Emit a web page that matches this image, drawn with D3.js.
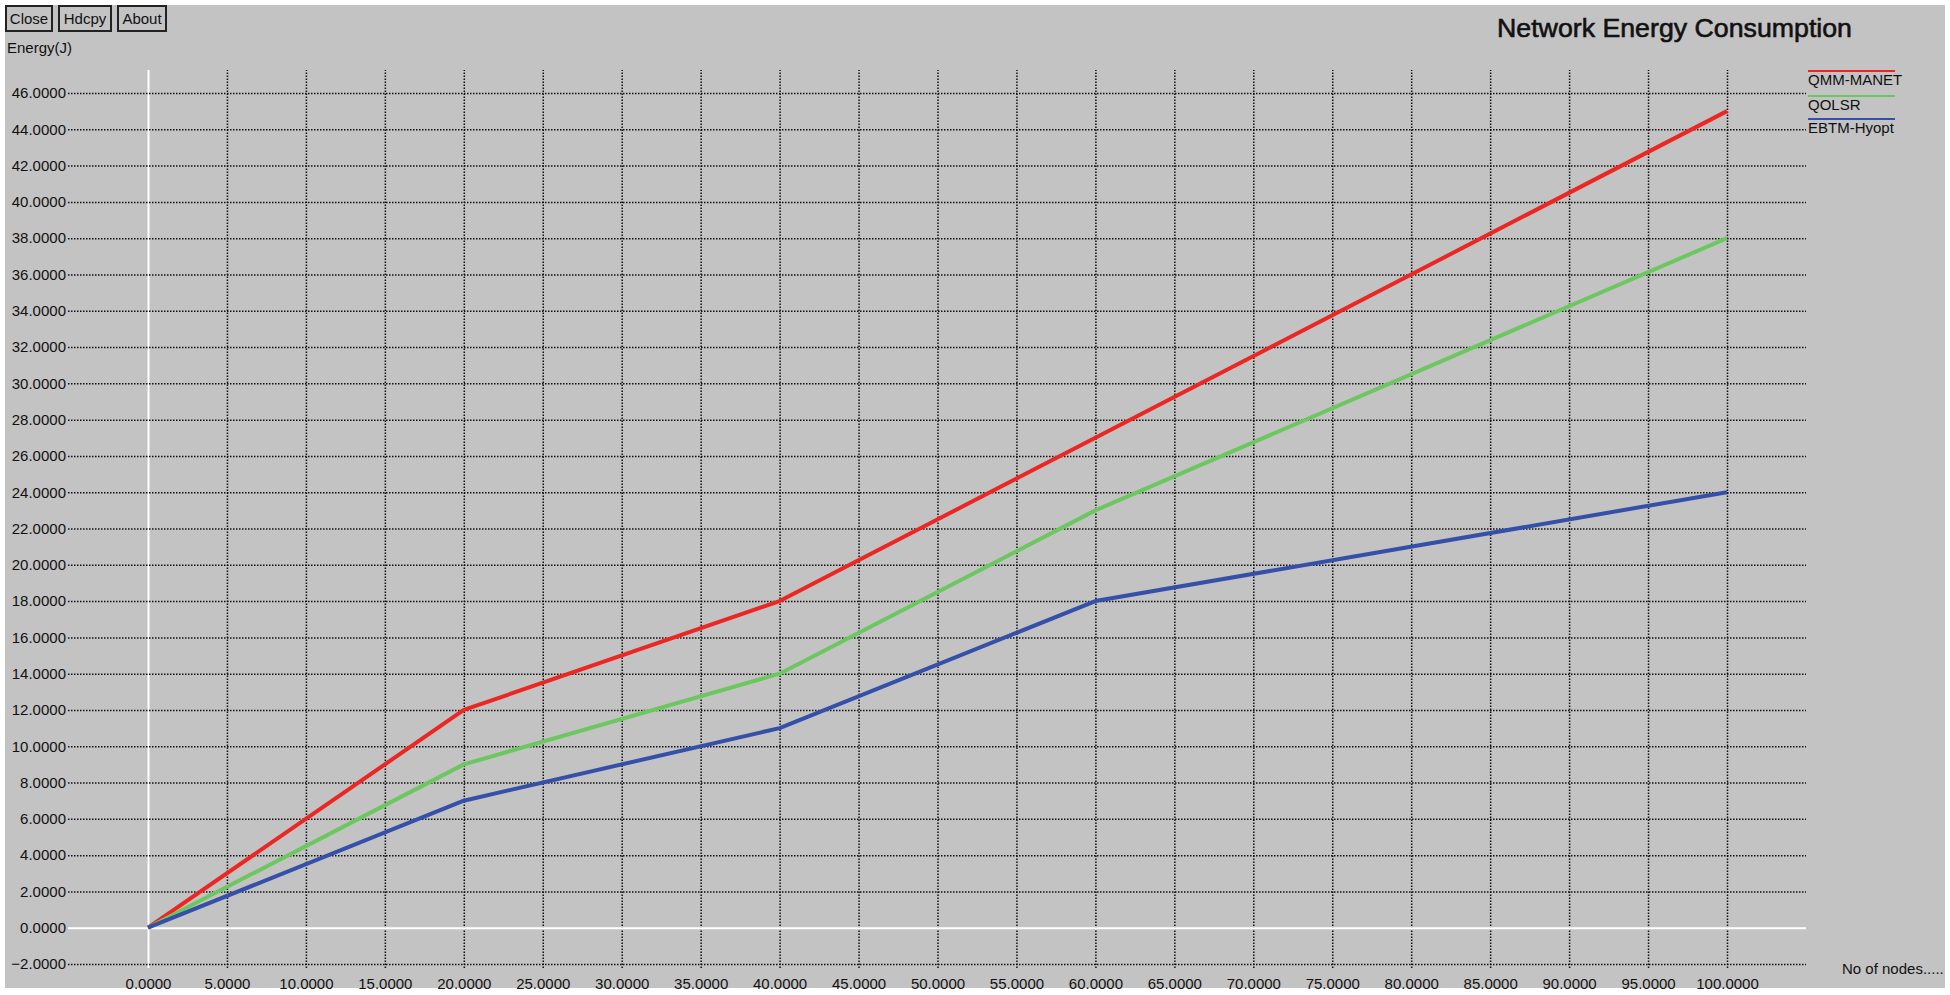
<!DOCTYPE html>
<html>
<head>
<meta charset="utf-8">
<title>Network Energy Consumption</title>
<script src="https://cdn.jsdelivr.net/npm/d3@7"></script>
<style>
  body { margin: 0; background: #fff; }
  svg { display: block; font-family: "Liberation Sans", Arial, sans-serif; }
  .grid line { stroke: #111; stroke-dasharray: 1.5,1.5; stroke-width: 1.5; }
  .grid .zero line { stroke: #fff; stroke-dasharray: none; stroke-width: 2; }
  .grid text { fill: #111; font-size: 15px; }
</style>
</head>
<body>
<div id="chart"></div>
<script>
// data
var nodes = [0, 20, 40, 60, 100];
var qmmManet = [0, 12, 18, 27, 45];
var qolsr = [0, 9, 14, 23, 38];
var ebtmHyopt = [0, 7, 11, 18, 24];
var seriesNames = ["QMM-MANET", "QOLSR", "EBTM-Hyopt"];
var seriesColors = ["#ec2723", "#6dc760", "#3550a8"];
var xTicks = d3.range(0, 101, 5);
var yTicks = d3.range(-2, 47, 2);
var buttons = ["Close", "Hdcpy", "About"];

var W = 1950, H = 995;
var svg = d3.select("#chart").append("svg").attr("width", W).attr("height", H);

// grey window panel
svg.append("rect").attr("x", 5).attr("y", 5).attr("width", 1940).attr("height", 983)
  .attr("fill", "#c3c3c3");

var x = d3.scaleLinear().domain([0, 100]).range([148, 1727]);
var y = d3.scaleLinear().domain([-2, 46]).range([964, 93]);

var gridLeft = 68, gridRight = 1806, gridTop = 70, gridBottom = 968;

// horizontal grid + y labels
var yAxis = d3.axisLeft(y).tickValues(yTicks).tickFormat(d3.format(".4f"))
  .tickSizeInner(-(gridRight - gridLeft)).tickSizeOuter(0).tickPadding(2);
var gy = svg.append("g").attr("class", "grid").attr("transform", "translate(" + gridLeft + ",0)").call(yAxis);
gy.select(".domain").remove();
gy.selectAll(".tick").classed("zero", function(d) { return d === 0; });

// vertical grid + x labels
var xAxis = d3.axisBottom(x).tickValues(xTicks).tickFormat(d3.format(".4f"))
  .tickSizeInner(-(gridBottom - gridTop)).tickSizeOuter(0).tickPadding(10);
var gx = svg.append("g").attr("class", "grid").attr("transform", "translate(0," + gridBottom + ")").call(xAxis);
gx.select(".domain").remove();
gx.selectAll(".tick").classed("zero", function(d) { return d === 0; });
gy.raise();
gy.selectAll(".tick.zero").raise();

// series lines
var allSeries = [qmmManet, qolsr, ebtmHyopt];
var line = d3.line().x(function(d, i) { return x(nodes[i]); }).y(function(d) { return y(d); });
allSeries.forEach(function(s, i) {
  svg.append("path").datum(s).attr("d", line)
    .attr("fill", "none").attr("stroke", seriesColors[i]).attr("stroke-width", 4)
    .attr("stroke-linejoin", "round");
});

// legend
var legendY = [71, 96, 119];
seriesNames.forEach(function(name, i) {
  svg.append("line").attr("x1", 1808).attr("x2", 1895).attr("y1", legendY[i]).attr("y2", legendY[i])
    .attr("stroke", seriesColors[i]).attr("stroke-width", 2);
  svg.append("text").attr("x", 1808).attr("y", legendY[i] + 14).attr("font-size", 15)
    .attr("fill", "#111").text(name);
});

// title and axis captions
svg.append("text").attr("x", 1497).attr("y", 37).attr("font-size", 26)
  .attr("fill", "#111").attr("stroke", "#111").attr("stroke-width", 0.6)
  .attr("textLength", 355).attr("lengthAdjust", "spacingAndGlyphs")
  .text("Network Energy Consumption");
svg.append("text").attr("x", 7).attr("y", 53).attr("font-size", 15).attr("fill", "#111").text("Energy(J)");
svg.append("text").attr("x", 1842).attr("y", 974).attr("font-size", 15).attr("fill", "#111").text("No of nodes.....");

// buttons
var bx = [5, 58, 117], bw = [48, 54, 50];
buttons.forEach(function(b, i) {
  svg.append("rect").attr("x", bx[i] + 1).attr("y", 6).attr("width", bw[i] - 2).attr("height", 25)
    .attr("fill", "#c3c3c3").attr("stroke", "#222").attr("stroke-width", 2);
  svg.append("text").attr("x", bx[i] + bw[i] / 2).attr("y", 24).attr("text-anchor", "middle")
    .attr("font-size", 15).attr("fill", "#111").text(b);
});
</script>
</body>
</html>
